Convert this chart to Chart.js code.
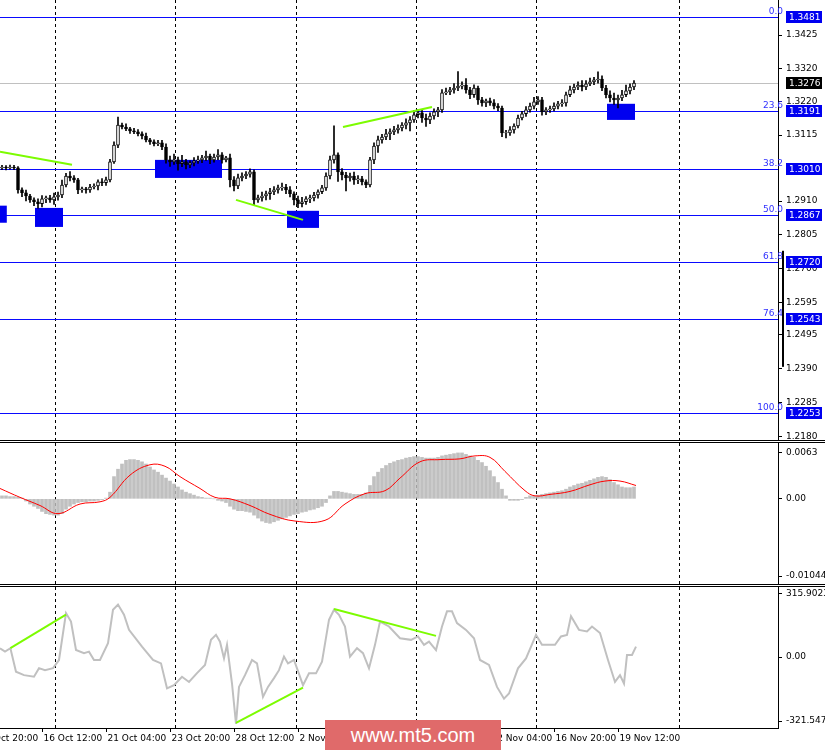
<!DOCTYPE html>
<html>
<head>
<meta charset="utf-8">
<script src="https://cdn.jsdelivr.net/npm/chart.js@4.4.1/dist/chart.umd.min.js"></script>
<style>
  body { margin: 0; background: #fff; width: 825px; height: 750px; position: relative; overflow: hidden; }
  canvas { position: absolute; left: 0; }
  .hl { position: absolute; left: 0; width: 825px; height: 1px; background: #000; }
  #wm { position: absolute; left: 325px; top: 720px; width: 176px; height: 30px; background: #e06a6a;
        color: #fff; font: 20px "Liberation Sans Narrow", "Liberation Sans", sans-serif; text-align: center; line-height: 30px; }
</style>
</head>
<body>
<canvas id="cMain" style="top:0px"></canvas>
<canvas id="cMacd" style="top:443px"></canvas>
<canvas id="cCci" style="top:587px"></canvas>
<div class="hl" style="top:440px"></div>
<div class="hl" style="top:442px"></div>
<div class="hl" style="top:584px"></div>
<div class="hl" style="top:586px"></div>
<div id="wm">www.mt5.com</div>
<script>
// ---- data (4h bars, index 0 = leftmost candle) ----
const closes = [
  1.3016,1.3013,1.3016,1.3013,1.2945,1.2936,1.2926,1.2914,1.2908,1.2902,
  1.2917,1.2920,1.2914,1.2923,1.2929,1.2960,1.2988,1.2982,1.2976,1.2945,
  1.2948,1.2945,1.2954,1.2957,1.2970,1.2967,1.2976,1.3032,1.3084,1.3146,
  1.3140,1.3134,1.3128,1.3125,1.3119,1.3112,1.3100,1.3094,1.3088,1.3091,
  1.3078,1.3038,1.3032,1.3038,1.3026,1.3032,1.3022,1.3029,1.3035,1.3038,
  1.3044,1.3050,1.3038,1.3047,1.3054,1.3038,1.3044,1.2976,1.2957,1.2982,
  1.2988,1.2994,1.3001,1.2914,1.2920,1.2926,1.2933,1.2939,1.2945,1.2951,
  1.2954,1.2945,1.2933,1.2914,1.2902,1.2908,1.2917,1.2920,1.2929,1.2939,
  1.2951,1.2988,1.3038,1.3054,1.3001,1.2991,1.2982,1.2988,1.2976,1.2979,
  1.2970,1.2960,1.3038,1.3081,1.3100,1.3109,1.3119,1.3125,1.3131,1.3137,
  1.3146,1.3153,1.3162,1.3178,1.3184,1.3168,1.3162,1.3174,1.3187,1.3193,
  1.3246,1.3249,1.3255,1.3261,1.3267,1.3270,1.3255,1.3240,1.3261,1.3224,
  1.3215,1.3221,1.3215,1.3205,1.3199,1.3122,1.3122,1.3131,1.3143,1.3168,
  1.3181,1.3193,1.3205,1.3218,1.3224,1.3187,1.3193,1.3196,1.3205,1.3212,
  1.3215,1.3240,1.3255,1.3264,1.3270,1.3264,1.3274,1.3280,1.3286,1.3289,
  1.3261,1.3240,1.3230,1.3224,1.3230,1.3240,1.3252,1.3264,1.3276
];
const firstOpen = 1.3013;
// wick lengths in pips above / below the body
const upWick = [
  5,4,6,5,4,6,8,5,6,9, 10,6,8,12,9,15,8,14,7,5, 6,5,8,7,6,10,9,8,10,25,
  6,10,5,8,7,6,9,5,6,8, 8,10,12,18,9,20,8,6,10,12, 8,15,6,9,16,7,5,12,10,12,
  10,8,9,6,9,12,8,11,10,9, 12,8,10,6,12,14,7,9,8,6, 8,10,12,90,6,10,8,9,12,10,
  8,6,8,10,12,8,14,9,11,10, 8,12,10,14,9,8,12,10,9,8, 10,12,8,14,45,10,20,8,10,6,
  8,6,9,10,8,6,8,10,7,9, 8,10,9,14,10,8,7,9,10,8, 10,8,12,9,10,14,10,12,8,22,
  10,8,12,15,9,14,18,10,8
];
const downWick = [
  5,6,4,5,10,12,15,8,12,14, 10,12,8,14,10,8,6,9,8,12, 8,10,8,6,12,9,8,6,5,8,
  6,5,8,6,7,9,6,8,7,6, 8,10,14,8,20,9,12,8,10,8, 9,8,12,7,8,10,6,22,15,8,
  9,8,10,15,8,10,12,18,9,10, 8,12,10,16,12,10,8,12,9,10, 6,8,9,10,30,15,40,10,14,12,
  10,8,6,12,20,10,8,18,9,10, 9,12,25,8,10,14,20,12,10,15, 8,6,9,10,8,9,10,12,8,14,
  10,12,8,9,8,12,16,8,10,6, 6,8,7,9,8,10,9,8,6,9, 8,10,6,9,8,12,8,6,9,10,
  8,10,12,14,25,8,6,9,8
];
const priceTicks = [1.3425,1.3320,1.3220,1.3115,1.2910,1.2805,1.2700,1.2595,1.2495,1.2390,1.2285,1.2180];
const fiboLevels = [1.3481,1.3191,1.3010,1.2867,1.2720,1.2543,1.2253];
const fiboNames = ["0.0","23.6","38.2","50.0","61.8","76.4","100.0"];
const lastPrice = 1.3276;
// support/resistance zones: [fromBar, toBar, highPrice, lowPrice]
const zones = [[-0.5,1.2,1.2896,1.2843],[8.25,15.25,1.2889,1.2830],[38.25,55,1.3038,1.2982],
               [71.25,79.25,1.2880,1.2827],[151.25,158.25,1.3212,1.3162]];
const priceDivergences = [[[-0.5,1.3063],[17.5,1.3023]],[[58.5,1.2914],[75.25,1.2852]],[[85.25,1.3140],[107.5,1.3202]]];
const separatorBars = [13.25,43.25,73.5,103.5,133.5,169.25];

const macdHist = [
  .0004,.0004,.0003,.0003,.0002,.0001,-.0003,-.0007,-.0010,-.0013,
  -.0017,-.0020,-.0021,-.0022,-.0022,-.0020,-.0014,-.0010,-.0007,-.0005,
  -.0004,-.0004,-.0003,-.0003,-.0002,-.0001,.0001,.0009,.0030,.0040,
  .0047,.0052,.0053,.0053,.0052,.0050,.0047,.0043,.0039,.0036,
  .0032,.0028,.0024,.0020,.0016,.0012,.0009,.0007,.0005,.0003,
  .0002,.0001,.0001,.0000,-.0002,-.0003,-.0005,-.0010,-.0014,-.0016,
  -.0016,-.0017,-.0018,-.0022,-.0026,-.0030,-.0032,-.0033,-.0031,-.0029,
  -.0027,-.0025,-.0023,-.0021,-.0020,-.0018,-.0017,-.0015,-.0014,-.0012,
  -.0010,-.0005,.0004,.0010,.0010,.0009,.0008,.0007,.0006,.0006,
  .0006,.0008,.0018,.0030,.0036,.0041,.0045,.0048,.0050,.0052,
  .0053,.0055,.0056,.0057,.0057,.0056,.0055,.0055,.0055,.0056,
  .0058,.0059,.0060,.0061,.0062,.0062,.0060,.0058,.0056,.0052,
  .0049,.0044,.0038,.0030,.0022,.0013,.0004,-.0002,-.0002,-.0002,
  -.0001,.0002,.0004,.0004,.0005,.0006,.0007,.0008,.0009,.0010,
  .0011,.0013,.0016,.0018,.0020,.0021,.0023,.0025,.0027,.0029,
  .0030,.0029,.0026,.0022,.0019,.0016,.0015,.0015,.0016
];
const signalAt = [-0.5,4.5,9.5,14,19.5,24.5,27,32,37,40.75,44.5,49.5,53.25,57,62,67,73.25,80.75,85.75,90.75,
                  95.75,99.5,104.5,109.5,114.5,118.25,122,125.75,130.75,133.25,137,142,147,150.75,154.5,158.5];
const signalVal = [.0014,.0002,-.0009,-.0020,-.0007,-.0004,.0002,.0032,.0046,.0044,.0030,.0014,.0002,0,-.0009,-.0021,
                   -.0030,-.0029,-.0007,.0007,.0011,.0028,.0050,.0053,.0054,.0058,.0056,.0037,.0011,.0004,
                   .0006,.0010,.0019,.0024,.0024,.0018];
const macdTicks = [0.0063, 0, -0.01044];
const macdTickText = ["0.0063","0.00","-0.01044"];

const cciAt = [-0.5,0.75,2.1,3.5,5.5,8,9.25,10.75,12.75,14.25,16,17.25,18.5,20.5,21.75,23,24.5,26.5,27.75,29,
  30.5,31.75,35,37.75,39.75,41.25,43,45,46.75,48.75,50.75,52.25,53.5,54.5,55.5,56.25,57.5,58.5,59.25,60.75,
  62.5,63.75,65.25,66.5,68,69.25,70.5,71.5,73,75.25,76.75,78.5,80,81.75,83,84.25,85.75,87,88.75,90.25,
  91.75,93.25,94.5,96.75,99.5,102.25,104,105.5,106.75,108.5,110,111.25,112.5,113.75,116,118,119.5,121.75,123.75,125.5,
  126.75,129,131,133.5,135,138.25,139.75,141.25,142.25,144.25,146.25,147.5,149.5,151.5,153.25,154.5,155.5,156.25,157.5,158.5];
const cciVal = [44,27,44,-74,-91,-99,-56,-66,-56,-15,220,178,35,19,27,-15,-15,69,237,263,
  212,136,52,-15,-32,-157,-141,-99,-125,-81,-40,86,111,77,-7,61,-133,-335,-150,-91,
  -15,-32,-200,-150,-106,-66,2,-32,-15,-141,-82,-82,-24,187,237,212,153,2,44,19,
  -57,61,178,153,94,86,103,61,77,35,153,229,229,170,136,94,-15,-40,-150,-209,
  -183,-57,-7,111,61,61,103,111,204,136,128,153,120,-15,-125,-91,-133,10,10,52];
const cciDivergences = [[[2.1,44],[16,212]],[[58.5,-330],[75.25,-153]],[[83,241],[108.5,106]]];
const cciTicks = [315.9023, 0, -321.5470];
const cciTickText = ["315.9023","0.00","-321.5470"];

const timeBars = [-6,10,26,42,58,74,90,106,122,138,154];
const timeLabels = ["14 Oct 20:00","16 Oct 12:00","21 Oct 04:00","23 Oct 20:00","28 Oct 12:00","2 Nov 04:00",
                    "4 Nov 20:00","9 Nov 12:00","12 Nov 04:00","16 Nov 20:00","19 Nov 12:00"];

const FONT = '9px "DejaVu Sans", sans-serif';
const X_MIN = -0.5, X_MAX = 194;
const AXIS_W = 47;
const FIBO_BLUE = '#0a0aff';

// ---- build candle data ----
const bodies = [], wicks = [];
closes.forEach((c, i) => {
  const o = i === 0 ? firstOpen : closes[i - 1];
  const top = Math.max(o, c), bot = Math.min(o, c);
  bodies.push({ x: i, y: [o, top === bot ? c + 0.00005 : c], up: c >= o });
  wicks.push({ x: i, y: [bot - downWick[i] * 0.0001, top + upWick[i] * 0.0001] });
});

function xAxis() {
  return { type: 'linear', min: X_MIN, max: X_MAX, display: false, offset: false };
}
function yAxis(min, max, ticks, fmt) {
  return {
    position: 'right', min, max,
    afterBuildTicks: s => { s.ticks = ticks.map(v => ({ value: v })); },
    afterFit: s => { s.width = AXIS_W; s.paddingTop = 0; s.paddingBottom = 0; },
    ticks: { color: '#000', font: { family: '"DejaVu Sans", sans-serif', size: 9 }, padding: 4,
             callback: fmt, autoSkip: false },
    grid: { drawOnChartArea: false, tickLength: 4, color: '#000' },
    border: { color: '#000' }
  };
}
function dashedSeparators(chart) {
  const { ctx, chartArea: a, scales: { x } } = chart;
  ctx.save();
  ctx.strokeStyle = '#000'; ctx.lineWidth = 1; ctx.setLineDash([3, 3]);
  separatorBars.forEach(b => {
    const px = Math.round(x.getPixelForValue(b)) + 0.5;
    ctx.beginPath(); ctx.moveTo(px, a.top); ctx.lineTo(px, a.bottom); ctx.stroke();
  });
  ctx.restore();
}
const baseOpts = {
  responsive: false, animation: false, events: [], devicePixelRatio: 1,
  layout: { padding: 0 },
  plugins: { legend: { display: false }, tooltip: { enabled: false } }
};

// ---- main price chart ----
const mainPlugin = {
  id: 'mainDecor',
  beforeDatasetsDraw(chart) {
    const { ctx, chartArea: a, scales: { x, y } } = chart;
    dashedSeparators(chart);
    ctx.save();
    // last price line
    ctx.fillStyle = '#c0c0c0';
    ctx.fillRect(a.left, Math.round(y.getPixelForValue(lastPrice)), a.right - a.left, 1);
    // fibo levels
    ctx.fillStyle = FIBO_BLUE;
    fiboLevels.forEach(l => {
      ctx.fillRect(a.left, Math.round(y.getPixelForValue(l)), a.right - a.left, 1);
    });
    // zones
    ctx.fillStyle = '#0000f0';
    zones.forEach(([b0, b1, p0, p1]) => {
      const x0 = x.getPixelForValue(b0), x1 = x.getPixelForValue(b1);
      const y0 = y.getPixelForValue(p0), y1 = y.getPixelForValue(p1);
      ctx.fillRect(x0, y0, x1 - x0, y1 - y0);
    });
    ctx.restore();
  },
  afterDraw(chart) {
    const { ctx, chartArea: a, scales: { y } } = chart;
    ctx.save();
    ctx.font = FONT; ctx.textBaseline = 'bottom'; ctx.textAlign = 'right';
    ctx.fillStyle = '#3030ff';
    fiboLevels.forEach((l, i) => {
      ctx.fillText(fiboNames[i], a.right + 5, Math.round(y.getPixelForValue(l)) - 1);
    });
    // range bar on the axis
    ctx.fillStyle = '#000';
    const r0 = y.getPixelForValue(1.2756), r1 = y.getPixelForValue(1.2396);
    ctx.fillRect(a.right + 4, r0, 2, r1 - r0);
    // level boxes on the price axis
    ctx.textBaseline = 'middle'; ctx.textAlign = 'left';
    const box = (v, bg) => {
      const p = Math.round(y.getPixelForValue(v));
      ctx.fillStyle = bg; ctx.fillRect(a.right + 8, p - 6, 36, 12);
      ctx.fillStyle = '#fff'; ctx.fillText(v.toFixed(4), a.right + 11, p + 0.5);
    };
    fiboLevels.forEach(l => box(l, '#0000f0'));
    box(lastPrice, '#000');
    ctx.restore();
  }
};

const cMain = document.getElementById('cMain');
cMain.width = 825; cMain.height = 440;
new Chart(cMain, {
  type: 'bar',
  data: {
    datasets: [
      ...priceDivergences.map(seg => ({
        type: 'line', data: seg.map(([b, p]) => ({ x: b, y: p })),
        borderColor: '#7cfc00', borderWidth: 2, pointRadius: 0
      })),
      {
        data: bodies, barThickness: 3, grouped: false, borderWidth: 1, borderSkipped: false,
        borderColor: '#000',
        backgroundColor: c => (c.raw && c.raw.up ? '#fff' : '#000')
      },
      { data: wicks, barThickness: 1, grouped: false, backgroundColor: '#000', borderWidth: 0 }
    ]
  },
  options: {
    ...baseOpts,
    scales: {
      x: xAxis(),
      y: yAxis(1.2169, 1.3534, priceTicks, v => v.toFixed(4))
    }
  },
  plugins: [mainPlugin]
});

// ---- MACD ----
const cMacd = document.getElementById('cMacd');
cMacd.width = 825; cMacd.height = 141;
new Chart(cMacd, {
  type: 'bar',
  data: {
    datasets: [
      {
        type: 'line', data: signalAt.map((b, i) => ({ x: b, y: signalVal[i] })),
        borderColor: '#ff0000', borderWidth: 1, pointRadius: 0, tension: 0.4
      },
      { data: macdHist.map((v, i) => ({ x: i, y: v })), barThickness: 3, backgroundColor: '#c0c0c0' }
    ]
  },
  options: {
    ...baseOpts,
    scales: {
      x: xAxis(),
      y: yAxis(-0.0115, 0.00754, macdTicks, (v, i) => macdTickText[i])
    }
  },
  plugins: [{ id: 'macdSep', beforeDatasetsDraw: dashedSeparators }]
});

// ---- CCI ----
const cciPlugin = {
  id: 'cciDecor',
  beforeDatasetsDraw: dashedSeparators,
  afterDraw(chart) {
    const { ctx, chartArea: a, scales: { x } } = chart;
    ctx.save();
    ctx.strokeStyle = '#000';
    ctx.beginPath(); ctx.moveTo(0, a.bottom + 0.5); ctx.lineTo(a.right, a.bottom + 0.5); ctx.stroke();
    ctx.font = FONT; ctx.fillStyle = '#000'; ctx.textBaseline = 'top'; ctx.textAlign = 'left';
    timeBars.forEach((b, i) => {
      const px = Math.round(x.getPixelForValue(b)) + 0.5;
      ctx.beginPath(); ctx.moveTo(px, a.bottom); ctx.lineTo(px, a.bottom + 4); ctx.stroke();
      ctx.fillText(timeLabels[i], px + 1, a.bottom + 6);
    });
    ctx.restore();
  }
};
const cCci = document.getElementById('cCci');
cCci.width = 825; cCci.height = 163;
new Chart(cCci, {
  type: 'line',
  data: {
    datasets: [
      ...cciDivergences.map(seg => ({
        data: seg.map(([b, v]) => ({ x: b, y: v })),
        borderColor: '#7cfc00', borderWidth: 2, pointRadius: 0
      })),
      {
        data: cciAt.map((b, i) => ({ x: b, y: cciVal[i] })),
        borderColor: '#c0c0c0', borderWidth: 2, pointRadius: 0
      }
    ]
  },
  options: {
    ...baseOpts,
    layout: { padding: { bottom: 22 } },
    scales: {
      x: xAxis(),
      y: yAxis(-356, 351, cciTicks, (v, i) => cciTickText[i])
    }
  },
  plugins: [cciPlugin]
});
</script>
</body>
</html>
